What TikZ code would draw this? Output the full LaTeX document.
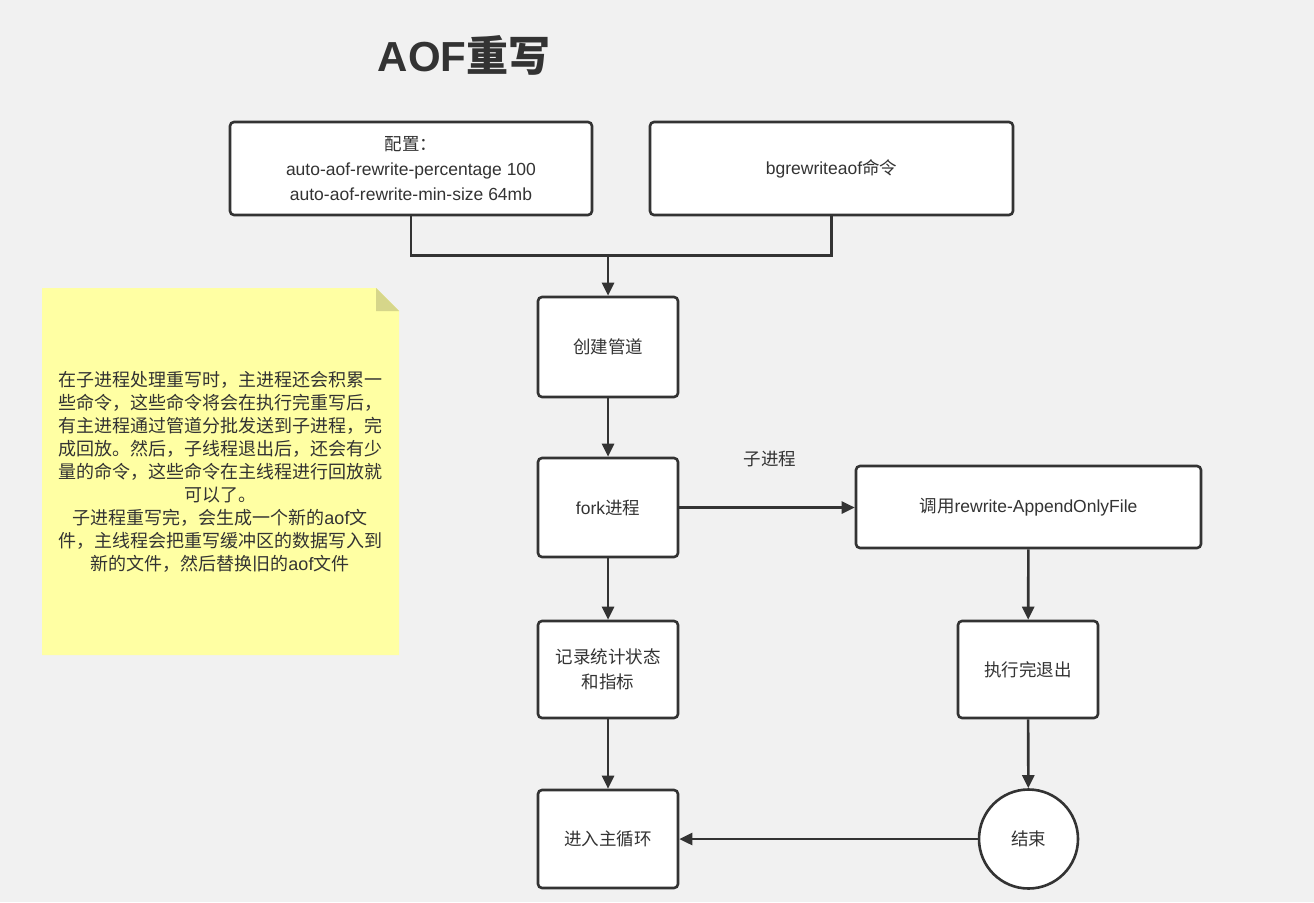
\documentclass[tikz,border=0pt]{standalone}
\usepackage{fontspec}
\setmainfont{Noto Sans CJK SC}
\newfontfamily\lat{Liberation Sans}
\usetikzlibrary{arrows.meta}
\definecolor{bgc}{HTML}{F1F1F1}
\definecolor{ink}{HTML}{333333}
\definecolor{notey}{HTML}{FFFFA3}
\definecolor{notefold}{HTML}{D6D68A}
\tikzset{
  box/.style={draw=ink, line width=2.6pt, rounded corners=4pt, fill=white, inner sep=0pt,
    align=center, font=\fontsize{17.5}{25}\selectfont, text=ink},
  endc/.style={draw=ink, line width=2.6pt, circle, fill=white, inner sep=0pt,
    minimum size=99pt, font=\fontsize{17.5}{25}\selectfont, text=ink},
  conn/.style={draw=ink, line width=2.6pt},
  arr/.style={conn, -{Triangle[length=13pt,width=12pt]}},
  lbl/.style={font=\fontsize{17.5}{20}\selectfont, text=ink},
}
\begin{document}
\begin{tikzpicture}[x=1pt,y=-1pt]
\fill[bgc] (0,0) rectangle (1314,902);
\useasboundingbox (0,0) rectangle (1314,902);

% title
\node[font=\fontsize{42}{46}\selectfont\bfseries, text=ink] (title) at (464,55) {{\lat AOF}重写};

% note
\fill[notey] (42,288) -- (376,288) -- (399,311) -- (399,655) -- (42,655) -- cycle;
\fill[notefold] (376,288) -- (376,311) -- (399,311) -- cycle;
\node[align=center, font=\fontsize{18}{23}\selectfont, text=ink, inner sep=0pt] (note) at (220,472)
{在子进程处理重写时，主进程还会积累一\\些命令，这些命令将会在执行完重写后，\\有主进程通过管道分批发送到子进程，完\\成回放。然后，子线程退出后，还会有少\\量的命令，这些命令在主线程进行回放就\\可以了。\\子进程重写完，会生成一个新的{\lat aof}文\\件，主线程会把重写缓冲区的数据写入到\\新的文件，然后替换旧的{\lat aof}文件};

% boxes
\node[box, minimum width=362pt, minimum height=93pt] (cfg) at (411,168.5)
  {配置：\\{\lat auto-aof-rewrite-percentage 100}\\{\lat auto-aof-rewrite-min-size 64mb}};
\node[box, minimum width=363pt, minimum height=93pt] (bg) at (831.5,168.5) {{\lat bgrewriteaof}命令};
\node[box, minimum width=140pt, minimum height=100pt] (pipe) at (608,347) {创建管道};
\node[box, minimum width=140pt, minimum height=99pt] (fork) at (608,507.5) {{\lat fork}进程};
\node[box, minimum width=345pt, minimum height=82pt] (rw) at (1028.5,507) {调用{\lat rewrite-AppendOnlyFile}};
\node[box, minimum width=140pt, minimum height=97pt] (rec) at (608,669.5) {记录统计状态\\和指标};
\node[box, minimum width=140pt, minimum height=97pt] (ex) at (1028,669.5) {执行完退出};
\node[box, minimum width=140pt, minimum height=98pt] (main) at (608,839) {进入主循环};
\node[endc] (end) at (1028.5,839) {结束};

\node[lbl] (sub) at (770,459) {子进程};

% connectors
\coordinate (j) at (608,254);
\draw[conn] (cfg.south) -- ++(0,39) -| (bg.south);
\draw[arr] (j) -- (pipe.north);
\draw[arr] (pipe) -- (fork);
\draw[arr] (fork.east) -- (rw.west |- fork.east);
\draw[arr] (fork) -- (rec);
\draw[arr] (rw) -- (ex);
\draw[arr] (rec) -- (main);
\draw[arr] (ex) -- (end);
\draw[arr] (end) -- (main);
\end{tikzpicture}
\end{document}
